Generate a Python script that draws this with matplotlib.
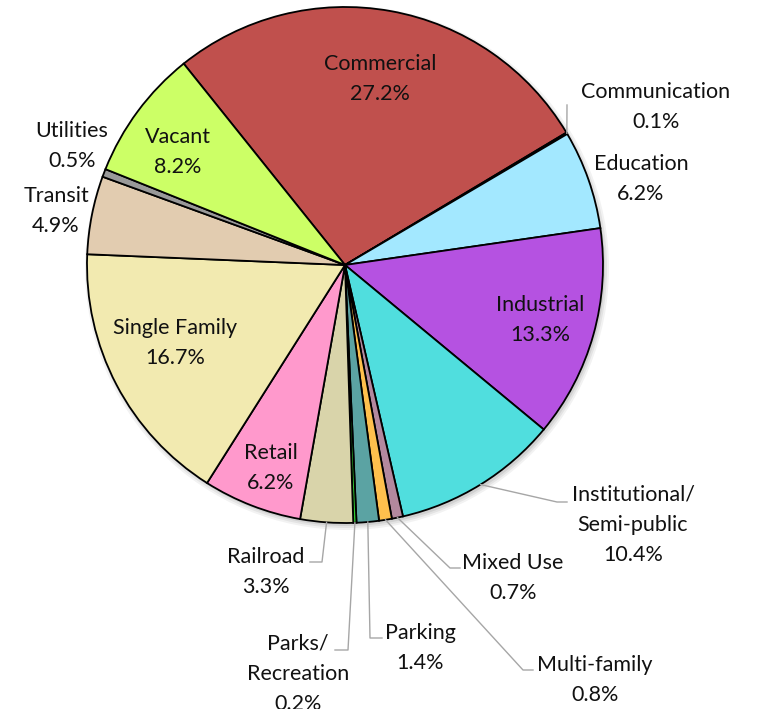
import numpy as np
import matplotlib
matplotlib.use("Agg")
import matplotlib.pyplot as plt
from matplotlib.patches import Circle

plt.rcParams['font.family'] = ['Lato', 'DejaVu Sans']

# -------------------------
# datos
# -------------------------
categorias = ["Commercial", "Communication", "Education", "Industrial",
              "Institutional/\nSemi-public", "Mixed Use", "Multi-family",
              "Parking", "Parks/\nRecreation", "Railroad", "Retail",
              "Single Family", "Transit", "Utilities", "Vacant"]
porcentajes = [27.2, 0.1, 6.2, 13.3, 10.4, 0.7, 0.8, 1.4, 0.2, 3.3, 6.2,
               16.7, 4.9, 0.5, 8.2]
colores = ["#C0504D", "#333333", "#A3E8FF", "#B552E1", "#50DEDE", "#B3889E",
           "#FFC04D", "#5BA3A3", "#33CC33", "#D9D4AA", "#FF99CC", "#F2EAB0",
           "#E2CCB0", "#999999", "#CCFF66"]

W, H = 759, 709
cx, cy, r = 345, H - 265, 258

fig = plt.figure(figsize=(W / 100, H / 100), dpi=100)
ax = fig.add_axes([0, 0, 1, 1])

# sombra
for k, a in enumerate([0.05, 0.06, 0.08]):
    ax.add_patch(Circle((cx + 2, cy - 3), r + 4 - 2 * k, color="black",
                        alpha=a, lw=0, zorder=0))

wedges, _ = ax.pie(porcentajes, colors=colores, startangle=128.7,
                   counterclock=False, center=(cx, cy), radius=r,
                   wedgeprops=dict(edgecolor="black", linewidth=1.3))

ax.set_xlim(0, W)
ax.set_ylim(0, H)
ax.set_aspect("equal")
ax.axis("off")

# -------------------------
# etiquetas (posicion en pixeles, y hacia abajo)
# -------------------------
dentro = {
    "Commercial": (380, 79),
    "Education": (641, 179),
    "Industrial": (540, 320),
    "Retail": (271, 468),
    "Single Family": (175, 343),
    "Transit": (56, 211),
    "Utilities": (72, 146),
    "Vacant": (178, 152),
}

# etiqueta, posicion texto, codo(s) de la linea
fuera = {
    "Communication": ((656, 107), [(567, 105)]),
    "Institutional/\nSemi-public": ((633, 525), [(557, 502), (567, 502)]),
    "Mixed Use": ((513, 578), [(450, 568), (460, 568)]),
    "Multi-family": ((595, 680), [(523, 670), (533, 670)]),
    "Parking": ((420, 648), [(370, 638), (382, 638)]),
    "Parks/\nRecreation": ((298, 674), [(348, 650), (335, 650)]),
    "Railroad": ((266, 572), [(322, 562), (310, 562)]),
}

for cat, val, w in zip(categorias, porcentajes, wedges):
    texto = f"{cat}\n{val}%"
    if cat in dentro:
        x, y = dentro[cat]
    else:
        (x, y), codos = fuera[cat]
        ang = np.deg2rad((w.theta1 + w.theta2) / 2)
        px = [cx + r * np.cos(ang)] + [c[0] for c in codos]
        py = [cy + r * np.sin(ang)] + [H - c[1] for c in codos]
        ax.plot(px, py, color="#A6A6A6", lw=1, zorder=1)
    ax.text(x, H - y, texto, ha="center", va="center", fontsize=15.5,
            linespacing=1.65, color="#111111", zorder=5)

plt.savefig("out.png", dpi=100)
